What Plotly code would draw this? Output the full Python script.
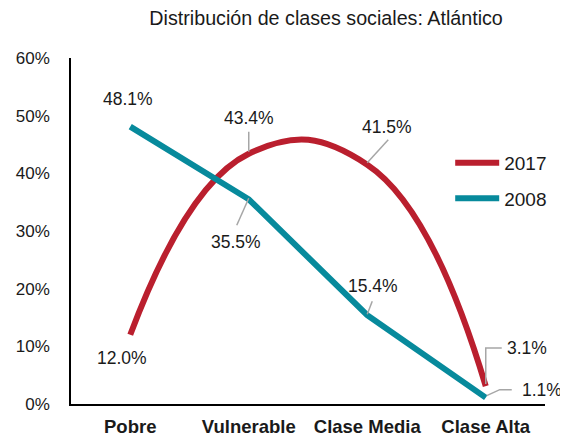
import plotly.graph_objects as go

categories = ["Pobre", "Vulnerable", "Clase Media", "Clase Alta"]
values_2017 = [12.0, 43.4, 41.5, 3.1]
values_2008 = [48.1, 35.5, 15.4, 1.1]
labels_2017 = ["12.0%", "43.4%", "41.5%", "3.1%"]
labels_2008 = ["48.1%", "35.5%", "15.4%", "1.1%"]
y_tickvals = [0, 10, 20, 30, 40, 50, 60]
y_ticktext = ["0%", "10%", "20%", "30%", "40%", "50%", "60%"]

RED = "#BA1F2E"
TEAL = "#078A9C"
FONT = "Liberation Sans, Arial, sans-serif"

fig = go.Figure()
fig.add_trace(go.Scatter(x=categories, y=values_2017, name="2017", mode="lines",
                         line=dict(color=RED, width=6, shape="spline", smoothing=1.3),
                         legendgroup="a"))
fig.add_trace(go.Scatter(x=categories, y=values_2008, name="2008", mode="lines",
                         line=dict(color=TEAL, width=6), legendgroup="b"))

# label placement (pixel shifts) and leader paths (pixels relative to the point)
place_2017 = [(-8, -23, None), (0, 36, "M0,2 L0,22"), (20, 38, "M0,2 L21,25"),
              (41, 38, "M0,2 L0,38 L16,38")]
place_2008 = [(-2, 28, None), (-13, -43, "M0,1 L-12,-26"), (6, 29, "M0,1 L5,14"),
              (56, 8, "M1,2 L14,8 L26,8")]

for vals, labs, places in [(values_2017, labels_2017, place_2017),
                           (values_2008, labels_2008, place_2008)]:
    for cat, v, lab, (dx, dy, path) in zip(categories, vals, labs, places):
        fig.add_annotation(x=cat, y=v, text=lab, showarrow=False, xshift=dx, yshift=dy,
                           font=dict(family=FONT, size=17.5, color="#1a1a1a"))
        if path:
            fig.add_shape(type="path", xref="x", yref="y", xsizemode="pixel",
                          ysizemode="pixel", xanchor=cat, yanchor=v, path=path,
                          line=dict(color="#A6A6A6", width=1.5))

# the page body has an 8px margin, so the figure is sized to the visible area
fig.update_layout(
    width=560, height=432,
    margin=dict(l=63, r=23, t=50, b=36, autoexpand=False),
    paper_bgcolor="white", plot_bgcolor="white",
    title=dict(text="Distribución de clases sociales: Atlántico", x=0.568, xanchor="center",
               y=0.977, yanchor="middle", font=dict(family=FONT, size=19.7, color="#1a1a1a")),
    showlegend=True,
    legend=dict(x=0.8, y=0.752, xanchor="left", yanchor="top", bgcolor="rgba(0,0,0,0)",
                font=dict(family=FONT, size=19, color="#1a1a1a"), tracegroupgap=8,
                itemwidth=44),
    xaxis=dict(range=[-0.5, 3.5], autorange=False, automargin=False, showline=True,
               linecolor="#000000", linewidth=1.5, showgrid=False, zeroline=False, ticks="",
               tickfont=dict(family=FONT, size=18.5, color="#1a1a1a", weight="bold"),
               ticklabelstandoff=5),
    yaxis=dict(range=[0, 60], autorange=False, automargin=False, tickvals=y_tickvals,
               ticktext=y_ticktext, showline=True, linecolor="#000000", linewidth=1.5,
               showgrid=False, zeroline=False, ticks="",
               tickfont=dict(family=FONT, size=17, color="#1a1a1a"), ticklabelstandoff=16),
)

fig.write_html("out.html")
